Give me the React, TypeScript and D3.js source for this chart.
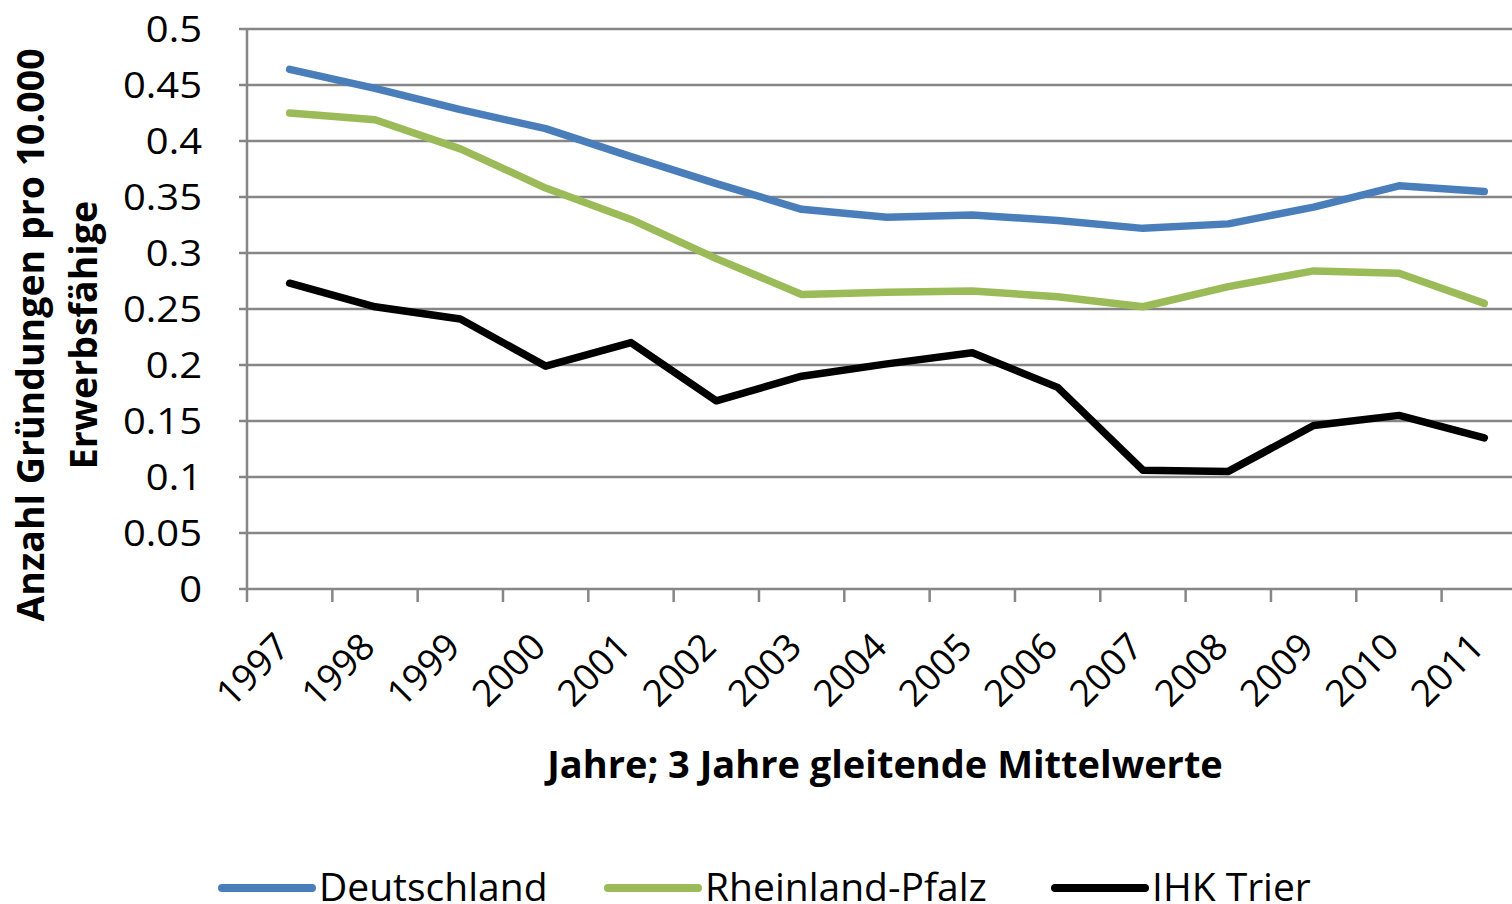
import { useRef, useEffect } from 'react'
import { select, scaleBand, scaleLinear, line } from 'd3'

// Jahre (3 Jahre gleitende Mittelwerte)
const years = ['1997', '1998', '1999', '2000', '2001', '2002', '2003', '2004', '2005', '2006', '2007', '2008', '2009', '2010', '2011']

const deutschland = [0.464, 0.447, 0.428, 0.411, 0.386, 0.362, 0.339, 0.332, 0.334, 0.329, 0.322, 0.326, 0.341, 0.36, 0.355]
const rheinlandPfalz = [0.425, 0.419, 0.393, 0.358, 0.33, 0.295, 0.263, 0.265, 0.266, 0.261, 0.252, 0.27, 0.284, 0.282, 0.255]
const ihkTrier = [0.273, 0.252, 0.241, 0.199, 0.22, 0.168, 0.19, 0.201, 0.211, 0.18, 0.106, 0.105, 0.146, 0.155, 0.135]

const seriesNames = ['Deutschland', 'Rheinland-Pfalz', 'IHK Trier']
const seriesColors = ['#4a7ebb', '#9bbb59', '#000000']

const yTicks = [0, 0.05, 0.1, 0.15, 0.2, 0.25, 0.3, 0.35, 0.4, 0.45, 0.5]
const yTickLabels = ['0', '0.05', '0.1', '0.15', '0.2', '0.25', '0.3', '0.35', '0.4', '0.45', '0.5']

const yTitle = ['Anzahl Gründungen pro 10.000', 'Erwerbsfähige']
const xTitle = 'Jahre; 3 Jahre gleitende Mittelwerte'

const WIDTH = 1512
const HEIGHT = 904
const FONT = "'Open Sans', 'DejaVu Sans', sans-serif"

const App = () => {
  const svgRef = useRef(null)

  useEffect(() => {
    const svg = select(svgRef.current)
    svg.selectAll('*').remove()

    const left = 247
    const top = 29
    const bottom = 589
    const right = left + 15 * 85.33

    const xScale = scaleBand().domain(years).range([left, right]).padding(0)
    const yScale = scaleLinear().domain([0, 0.5]).range([bottom, top])
    const bw = xScale.bandwidth()
    const cx = (y) => xScale(y) + bw / 2

    const grid = '#868686'

    // horizontal gridlines
    svg
      .append('g')
      .selectAll('line')
      .data(yTicks)
      .join('line')
      .attr('x1', left - 8)
      .attr('x2', right)
      .attr('y1', (d) => yScale(d))
      .attr('y2', (d) => yScale(d))
      .attr('stroke', grid)
      .attr('stroke-width', 2.5)

    // y axis line
    svg
      .append('line')
      .attr('x1', left)
      .attr('x2', left)
      .attr('y1', top)
      .attr('y2', bottom + 13)
      .attr('stroke', grid)
      .attr('stroke-width', 2.5)

    // x tick marks at category boundaries
    svg
      .append('g')
      .selectAll('line')
      .data(years)
      .join('line')
      .attr('x1', (d) => xScale(d) + bw)
      .attr('x2', (d) => xScale(d) + bw)
      .attr('y1', bottom)
      .attr('y2', bottom + 13)
      .attr('stroke', grid)
      .attr('stroke-width', 2.5)

    // y tick labels
    svg
      .append('g')
      .selectAll('text')
      .data(yTicks)
      .join('text')
      .attr('x', left - 45)
      .attr('y', (d) => yScale(d) + 13)
      .attr('text-anchor', 'end')
      .attr('font-family', FONT)
      .attr('font-size', 37)
      .attr('transform', (d) => `translate(${(left - 45) * -0.08}, 0) scale(1.08, 1)`)
      .text((d, i) => yTickLabels[i])

    // x tick labels, rotated
    svg
      .append('g')
      .selectAll('text')
      .data(years)
      .join('text')
      .attr('transform', (d) => `translate(${cx(d) + 2}, 649) rotate(-45)`)
      .attr('text-anchor', 'end')
      .attr('font-family', FONT)
      .attr('font-size', 37)
      .text((d) => d)

    // axis titles
    svg
      .append('text')
      .attr('x', 885)
      .attr('y', 778)
      .attr('text-anchor', 'middle')
      .attr('font-family', FONT)
      .attr('font-weight', 'bold')
      .attr('font-size', 38)
      .text(xTitle)

    svg
      .append('g')
      .selectAll('text')
      .data(yTitle)
      .join('text')
      .attr('transform', (d, i) => `translate(${44 + i * 53}, 335) rotate(-90)`)
      .attr('text-anchor', 'middle')
      .attr('font-family', FONT)
      .attr('font-weight', 'bold')
      .attr('font-size', 37.5)
      .text((d) => d)

    // series lines
    const lineGen = line()
      .x((d, i) => cx(years[i]))
      .y((d) => yScale(d))

    const allSeries = [deutschland, rheinlandPfalz, ihkTrier]
    allSeries.forEach((values, k) => {
      svg
        .append('path')
        .attr('d', lineGen(values))
        .attr('fill', 'none')
        .attr('stroke', seriesColors[k])
        .attr('stroke-width', 7.5)
        .attr('stroke-linecap', 'round')
        .attr('stroke-linejoin', 'round')
    })

    // legend
    const legendX = [222, 608, 1055]
    const legend = svg
      .append('g')
      .selectAll('g')
      .data(seriesNames)
      .join('g')
      .attr('transform', (d, i) => `translate(${legendX[i]}, 888)`)

    legend
      .append('line')
      .attr('x1', 0)
      .attr('x2', 90)
      .attr('y1', 0)
      .attr('y2', 0)
      .attr('stroke', (d, i) => seriesColors[i])
      .attr('stroke-width', 8)
      .attr('stroke-linecap', 'round')

    legend
      .append('text')
      .attr('x', 97)
      .attr('y', 13)
      .attr('font-family', FONT)
      .attr('font-size', 39)
      .text((d) => d)
  }, [])

  return (
    <div>
      <svg
        ref={svgRef}
        width={WIDTH}
        height={HEIGHT}
        style={{ position: 'absolute', left: 0, top: 0, background: '#fff' }}
      ></svg>
    </div>
  )
}

export default App
